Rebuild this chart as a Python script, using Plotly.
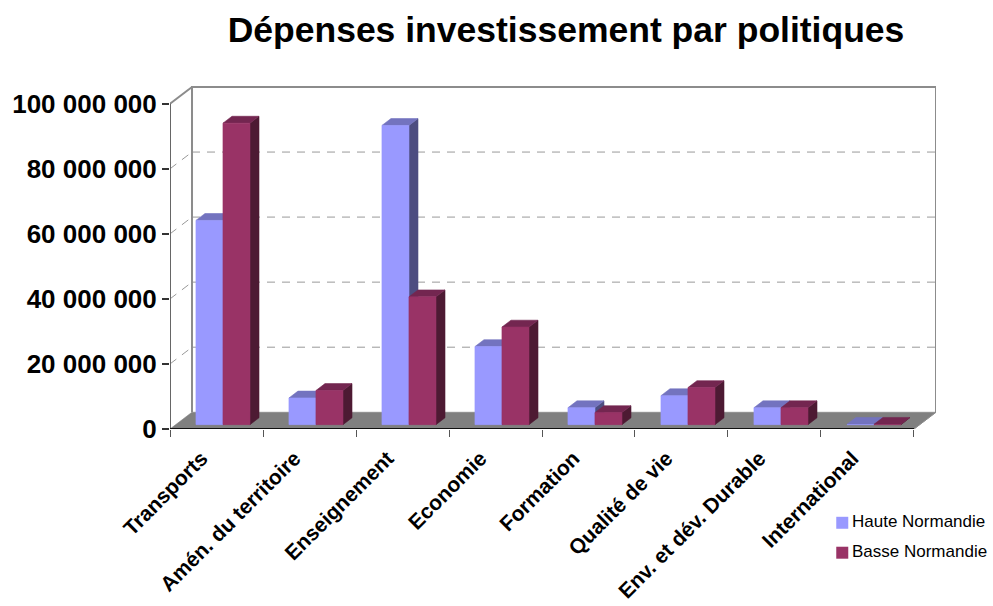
import plotly.graph_objects as go

categories = ["Transports", "Amén. du territoire", "Enseignement", "Economie",
              "Formation", "Qualité de vie", "Env. et dév. Durable", "International"]
haute_normandie = [62.8e6, 8.2e6, 92.0e6, 24.0e6, 5.2e6, 8.9e6, 5.2e6, 0.1e6]
basse_normandie = [92.7e6, 10.5e6, 39.3e6, 30.0e6, 3.7e6, 11.4e6, 5.2e6, 0.1e6]
y_ticks = [0, 20e6, 40e6, 60e6, 80e6, 100e6]
y_labels = ["0", "20 000 000", "40 000 000", "60 000 000", "80 000 000", "100 000 000"]
colors_hn = dict(front="#9999FF", top="#7373BF", side="#4D4D80")
colors_bn = dict(front="#993366", top="#732650", side="#4D1A33")

W, H = 993, 606
L, R, T, B = 170.0, 935.7, 85.7, 429.5
ymax_front = 100e6
px_per_val = (B - 103.5) / ymax_front
px_per_cat = (913.7 - L) / len(categories)
depth_x = (R - 913.7) / px_per_cat          # category units over the full depth
depth_y = (B - 412.7) / px_per_val          # value units over the full depth
x_range = [0, len(categories) + depth_x]
y_range = [0, (B - T) / px_per_val]
z0, z1 = 0.26, 0.67
bar_w = 27.0 / px_per_cat
bar_shift = 0.008


def P(c, v, z):
    return c + z * depth_x, v + z * depth_y


def poly(pts):
    xs, ys = zip(*[P(*p) for p in pts + [pts[0]]])
    return list(xs) + [None], list(ys) + [None]


def join(polys):
    xs, ys = [], []
    for a, b in polys:
        xs += a
        ys += b
    return xs, ys


def ptrace(polys, color, width=0.6, line=None):
    xs, ys = join(polys)
    return go.Scatter(x=xs, y=ys, mode="lines", fill="toself", fillcolor=color,
                      line=dict(color=line or color, width=width), hoverinfo="skip",
                      showlegend=False, cliponaxis=False)


def seg(pts_list, color, width, dash="solid"):
    xs, ys = [], []
    for pts in pts_list:
        for p in pts:
            x, y = P(*p)
            xs.append(x)
            ys.append(y)
        xs.append(None)
        ys.append(None)
    return go.Scatter(x=xs, y=ys, mode="lines", line=dict(color=color, width=width, dash=dash),
                      hoverinfo="skip", showlegend=False, cliponaxis=False)


n = len(categories)
fig = go.Figure()
# floor
fig.add_trace(ptrace([poly([(0, 0, 0), (n, 0, 0), (n, 0, 1), (0, 0, 1)])], "#808080"))
# gridlines
grid = []
for v in y_ticks[1:]:
    grid.append([(0, v, 0), (0, v, 1)])
    grid.append([(0, v, 1), (n, v, 1)])
fig.add_trace(seg(grid, "#999999", 1, "8px,7px"))
# walls
fig.add_trace(seg([[(0, 0, 1), (0, ymax_front, 1), (n, ymax_front, 1), (n, 0, 1)],
                   [(0, ymax_front, 0), (0, ymax_front, 1)]], "#8C8C8C", 2))
fig.add_trace(seg([[(0, 0, 0), (0, ymax_front, 0)]], "#666666", 2))

# bars
for values, colors, off in ((haute_normandie, colors_hn, -bar_w),
                            (basse_normandie, colors_bn, 0.0)):
    sides, tops, fronts = [], [], []
    for i, v in enumerate(values):
        a = i + 0.5 + bar_shift + off
        b = a + bar_w
        sides.append(poly([(b, 0, z0), (b, 0, z1), (b, v, z1), (b, v, z0)]))
        tops.append(poly([(a, v, z0), (b, v, z0), (b, v, z1), (a, v, z1)]))
        fronts.append(poly([(a, 0, z0), (b, 0, z0), (b, v, z0), (a, v, z0)]))
    fig.add_trace(ptrace(sides, colors["side"]))
    fig.add_trace(ptrace(tops, colors["top"]))
    fig.add_trace(ptrace(fronts, colors["front"]))

# front floor edge
fig.add_trace(seg([[(0, 0, 0), (n, 0, 0)]], "#111111", 2))
fig.add_trace(seg([[(n, 0, 0), (n, 0, 1)]], "#8C8C8C", 1))


def xp(px):
    return (px - L) / (R - L)


def yp(py):
    return (B - py) / (B - T)


shapes, annotations = [], []
for label, color, cy in (("Haute Normandie", colors_hn["front"], 522.5),
                         ("Basse Normandie", colors_bn["front"], 552.5)):
    shapes.append(dict(type="rect", xref="paper", yref="paper", x0=xp(836), x1=xp(848),
                       y0=yp(cy - 5), y1=yp(cy + 7), fillcolor=color, line_width=0))
    annotations.append(dict(xref="paper", yref="paper", x=xp(850), y=yp(cy), text=label,
                            showarrow=False, xanchor="left", yanchor="middle",
                            font=dict(family="Liberation Sans", size=17, color="#000000")))

fig.update_layout(
    width=W, height=H, autosize=False,
    margin=dict(l=L, r=W - R, t=T, b=H - B, pad=0, autoexpand=False),
    paper_bgcolor="white", plot_bgcolor="white", showlegend=False,
    title=dict(text="<b>Dépenses investissement par politiques</b>",
               x=566 / W, xref="container", xanchor="center",
               y=1 - 30 / H, yref="container", yanchor="middle",
               font=dict(family="Liberation Sans", size=35.5, color="#000000")),
    xaxis=dict(range=x_range, showgrid=False, zeroline=False, showline=False, automargin=False,
               tickvals=[i + 0.5 for i in range(n)], ticktext=[f"<b>{c}</b>" for c in categories],
               tickangle=-45, ticks="", ticklen=0, ticklabelshift=-15, ticklabelstandoff=12,
               tickfont=dict(family="Liberation Sans", size=21, color="#000000"),
               minor=dict(tickvals=list(range(n + 1)), ticks="outside", ticklen=7,
                          tickwidth=1, tickcolor="#555555")),
    yaxis=dict(range=y_range, showgrid=False, zeroline=False, showline=False, automargin=False,
               tickvals=y_ticks, ticktext=[f"<b>{s}</b>" for s in y_labels],
               ticks="outside", ticklen=7, tickwidth=2, tickcolor="#333333",
               tickfont=dict(family="Liberation Sans", size=26, color="#000000")),
    shapes=shapes, annotations=annotations,
)
fig.write_html("out.html", post_script="document.body.style.margin='0';",
               config=dict(displayModeBar=False))
